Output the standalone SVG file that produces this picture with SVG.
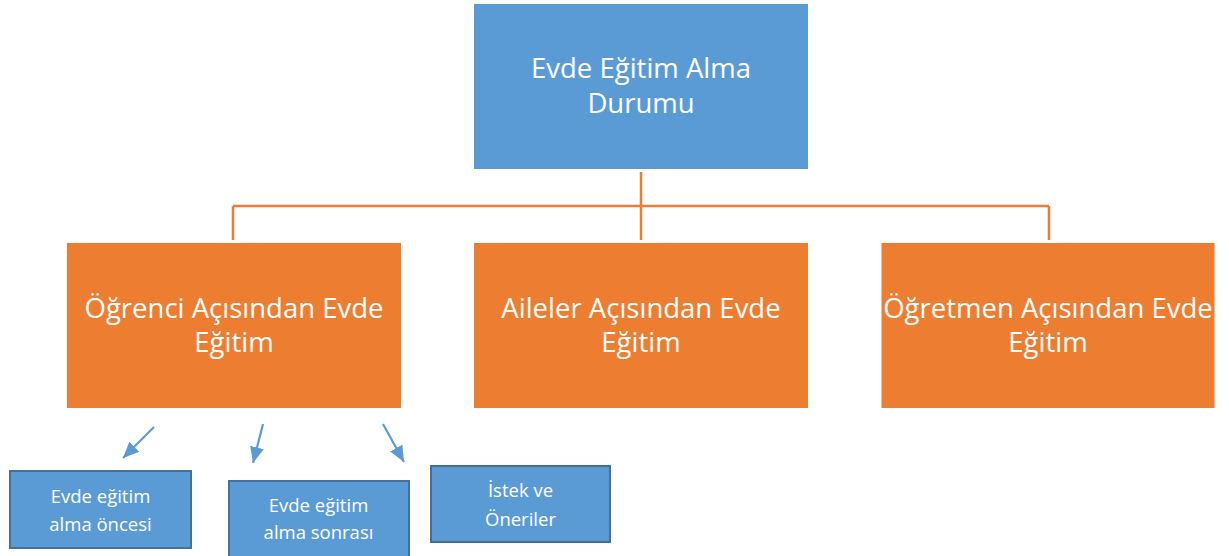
<svg xmlns="http://www.w3.org/2000/svg" width="1229" height="556" viewBox="0 0 1229 556">
<style>
.top{fill:#5B9BD5}
.org{fill:#ED7D31}
.sub{fill:#5B9BD5;stroke:#41719C;stroke-width:2}
.big{font-family:"Open Sans","DejaVu Sans",sans-serif;font-size:27.5px;fill:#fff;text-anchor:middle}
.sm{font-family:"Open Sans","DejaVu Sans",sans-serif;font-size:18.5px;fill:#fff;text-anchor:middle}
.con{stroke:#ED7D31;stroke-width:2.5;fill:none}
.arr{stroke:#5B9BD5;stroke-width:2.2;fill:none;marker-end:url(#ah)}
</style>
<defs>
<marker id="ah" markerUnits="userSpaceOnUse" markerWidth="18" markerHeight="16" refX="16" refY="7" orient="auto" viewBox="0 0 18 14">
<path d="M0,0 L16,7 L0,14 Z" fill="#5B9BD5"/>
</marker>
</defs>
<rect width="1229" height="556" fill="#fff"/>
<g id="connectors">
<path class="con" d="M641,172 V240 M233,206 H1049 M233,206 V240 M1049,206 V240"/>
<line class="arr" x1="154" y1="427" x2="123" y2="458"/>
<line class="arr" x1="263" y1="424" x2="253" y2="463"/>
<line class="arr" x1="383" y1="424" x2="404" y2="462"/>
</g>
<g id="root">
<rect class="top" x="474" y="4" width="334" height="165"/>
<text class="big" x="641" y="78">Evde Eğitim Alma</text>
<text class="big" x="641" y="113">Durumu</text>
</g>
<g id="ogrenci">
<rect class="org" x="67" y="243" width="334" height="165"/>
<text class="big" x="234" y="318">Öğrenci Açısından Evde</text>
<text class="big" x="234" y="352">Eğitim</text>
</g>
<g id="aileler">
<rect class="org" x="474" y="243" width="334" height="165"/>
<text class="big" x="641" y="318">Aileler Açısından Evde</text>
<text class="big" x="641" y="352">Eğitim</text>
</g>
<g id="ogretmen">
<rect class="org" x="881.5" y="243" width="333" height="165"/>
<text class="big" x="1048" y="318">Öğretmen Açısından Evde</text>
<text class="big" x="1048" y="352">Eğitim</text>
</g>
<g id="once">
<rect class="sub" x="10" y="471" width="181" height="77"/>
<text class="sm" x="100.5" y="503">Evde eğitim</text>
<text class="sm" x="100.5" y="531">alma öncesi</text>
</g>
<g id="sonra">
<rect class="sub" x="229" y="481" width="180" height="76"/>
<text class="sm" x="318.5" y="511.5">Evde eğitim</text>
<text class="sm" x="318.5" y="539">alma sonrası</text>
</g>
<g id="istek">
<rect class="sub" x="431" y="466" width="179" height="76"/>
<text class="sm" x="520.5" y="497">İstek ve</text>
<text class="sm" x="520.5" y="526">Öneriler</text>
</g>
</svg>
